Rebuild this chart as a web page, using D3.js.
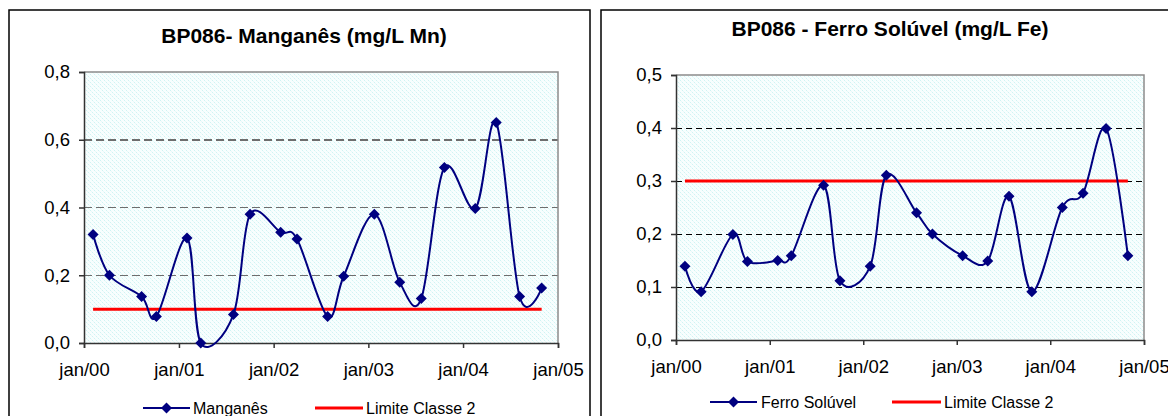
<!DOCTYPE html>
<html><head><meta charset="utf-8">
<script src="https://cdn.jsdelivr.net/npm/d3@7"></script>
<style>html,body{margin:0;padding:0;background:#fff;}svg{display:block;font-family:"Liberation Sans",Arial,sans-serif;}</style>
</head><body>
<svg id="c" width="1168" height="416"></svg>
<script>
// ---- data ----
const sampleDates = ["2000-02-05","2000-04-08","2000-08-10","2000-10-06","2001-02-01","2001-03-26","2001-07-30","2001-10-02","2002-01-28","2002-04-01","2002-07-28","2002-09-28","2003-01-24","2003-05-02","2003-07-24","2003-10-21","2004-02-17","2004-05-08","2004-08-06","2004-10-30"];
const manganes = [0.32,0.20,0.137,0.078,0.31,0.0,0.084,0.38,0.327,0.307,0.078,0.197,0.38,0.179,0.131,0.518,0.397,0.651,0.137,0.162];
const ferro = [0.139,0.091,0.199,0.148,0.15,0.159,0.292,0.112,0.139,0.311,0.24,0.2,0.159,0.149,0.271,0.091,0.25,0.277,0.399,0.159];
const limiteMn = 0.1;
const limiteFe = 0.3;
const xTickYears = [2000,2001,2002,2003,2004,2005];
const xTickLabels = ["jan/00","jan/01","jan/02","jan/03","jan/04","jan/05"];
const yTicksMn = [0,0.2,0.4,0.6,0.8];
const yTicksFe = [0,0.1,0.2,0.3,0.4,0.5];
const titles = ["BP086- Manganês (mg/L Mn)","BP086 - Ferro Solúvel (mg/L Fe)"];
const seriesNames = [["Manganês","Limite Classe 2"],["Ferro Solúvel","Limite Classe 2"]];

// ---- drawing ----
const parse = d3.timeParse("%Y-%m-%d");
const dates = sampleDates.map(parse);
const loc = d3.formatLocale({decimal:",",thousands:".",grouping:[3],currency:["",""]});
const fmt = loc.format(".1f");
const svg = d3.select("#c");

const defs = svg.append("defs");
const pat = defs.append("pattern").attr("id","bg").attr("width",4).attr("height",4).attr("patternUnits","userSpaceOnUse");
pat.append("rect").attr("width",4).attr("height",4).attr("fill","#f8fefe");
pat.append("rect").attr("x",0).attr("y",0).attr("width",1).attr("height",1).attr("fill","#d0f3f3");
pat.append("rect").attr("x",2).attr("y",2).attr("width",1).attr("height",1).attr("fill","#d0f3f3");
pat.append("rect").attr("x",1).attr("y",1).attr("width",1).attr("height",1).attr("fill","#e8fafa");
pat.append("rect").attr("x",3).attr("y",3).attr("width",1).attr("height",1).attr("fill","#e8fafa");

const diamond = r => `M0,${-r}L${r},0L0,${r}L${-r},0Z`;

function drawChart(cfg){
  const g = svg.append("g");
  g.append("rect").attr("x",cfg.frame[0]).attr("y",cfg.frame[1]).attr("width",cfg.frame[2]).attr("height",cfg.frame[3])
    .attr("fill","#fff").attr("stroke","#000").attr("stroke-width",1.5);
  const x = d3.scaleTime().domain([new Date(2000,0,1), new Date(2005,0,1)]).range([cfg.l,cfg.r]);
  const y = d3.scaleLinear().domain([0,cfg.ymax]).range([cfg.b,cfg.t]);
  g.append("rect").attr("x",cfg.l).attr("y",cfg.t).attr("width",cfg.r-cfg.l).attr("height",cfg.b-cfg.t).attr("fill","url(#bg)");
  g.append("g").selectAll("line").data(cfg.yTicks.filter(v=>v>0 && v<cfg.ymax)).join("line")
    .attr("x1",cfg.l).attr("x2",cfg.r).attr("y1",d=>y(d)).attr("y2",d=>y(d))
    .attr("stroke",cfg.gridColor).attr("stroke-width",cfg.gridWidth).attr("stroke-dasharray",cfg.dash)
    .attr("shape-rendering","crispEdges");
  g.append("path").attr("d",`M${cfg.l},${y(cfg.ymax)}H${cfg.r}V${cfg.b}`).attr("fill","none").attr("stroke","#8c8c8c").attr("stroke-width",1.5);
  const ya = g.append("g").attr("transform",`translate(${cfg.l},0)`)
    .call(d3.axisLeft(y).tickValues(cfg.yTicks).tickFormat(fmt).tickSize(5).tickPadding(9));
  ya.select(".domain").attr("stroke","#333").attr("stroke-width",1.5);
  ya.selectAll(".tick line").attr("stroke","#333").attr("stroke-width",1.5);
  ya.selectAll("text").attr("font-size",18.5).attr("fill","#000").attr("font-family","Liberation Sans, Arial, sans-serif");
  const xa = g.append("g").attr("transform",`translate(0,${cfg.b})`)
    .call(d3.axisBottom(x).tickValues(xTickYears.map(yv=>new Date(yv,0,1))).tickFormat((d,i)=>xTickLabels[i]).tickSize(5).tickPadding(cfg.xPad));
  xa.select(".domain").attr("stroke","#333").attr("stroke-width",1.5);
  xa.selectAll(".tick line").attr("stroke","#333").attr("stroke-width",1.5);
  xa.selectAll("text").attr("font-size",18.5).attr("fill","#000").attr("font-family","Liberation Sans, Arial, sans-serif");
  g.append("line").attr("x1",x(dates[0])).attr("x2",x(dates[dates.length-1]))
    .attr("y1",y(cfg.limit)).attr("y2",y(cfg.limit)).attr("stroke","#ff0000").attr("stroke-width",3);
  const pts = dates.map((d,i)=>[x(d), y(cfg.values[i])]);
  g.append("path").attr("d",d3.line().curve(d3.curveCardinal.tension(0))(pts))
    .attr("fill","none").attr("stroke","#000080").attr("stroke-width",2);
  g.append("g").selectAll("path").data(pts).join("path")
    .attr("transform",p=>`translate(${p[0]},${p[1]})`).attr("d",diamond(5.5)).attr("fill","#000080");
  g.append("text").attr("x",cfg.titleX).attr("y",cfg.titleY).attr("text-anchor","middle")
    .attr("font-size",21).attr("font-weight","bold").text(cfg.title);
  const L = cfg.legend;
  g.append("line").attr("x1",L.s1[0]).attr("x2",L.s1[1]).attr("y1",L.y).attr("y2",L.y).attr("stroke","#000080").attr("stroke-width",2);
  g.append("path").attr("transform",`translate(${(L.s1[0]+L.s1[1])/2},${L.y})`).attr("d",diamond(5.5)).attr("fill","#000080");
  g.append("text").attr("x",L.s1[2]).attr("y",L.y).attr("dy","0.35em").attr("font-size",16).text(cfg.names[0]);
  g.append("line").attr("x1",L.s2[0]).attr("x2",L.s2[1]).attr("y1",L.y).attr("y2",L.y).attr("stroke","#ff0000").attr("stroke-width",3);
  g.append("text").attr("x",L.s2[2]).attr("y",L.y).attr("dy","0.35em").attr("font-size",16).text(cfg.names[1]);
}

drawChart({frame:[9,10,581,420], l:84,t:72,r:558,b:343, ymax:0.8, yTicks:yTicksMn, values:manganes, limit:limiteMn,
  gridColor:"#6e6e6e", gridWidth:1.5, dash:"8,4", title:titles[0], titleX:304, titleY:43, names:seriesNames[0], xPad:15,
  legend:{y:408, s1:[143,190,193], s2:[315,363,366]}});
drawChart({frame:[601,10,600,420], l:676,t:75,r:1144,b:340, ymax:0.5, yTicks:yTicksFe, values:ferro, limit:limiteFe,
  gridColor:"#000", gridWidth:1, dash:"6,4", title:titles[1], titleX:890, titleY:36, names:seriesNames[1], xPad:15,
  legend:{y:402, s1:[710,757,761], s2:[892,941,944]}});
</script>
</body></html>
